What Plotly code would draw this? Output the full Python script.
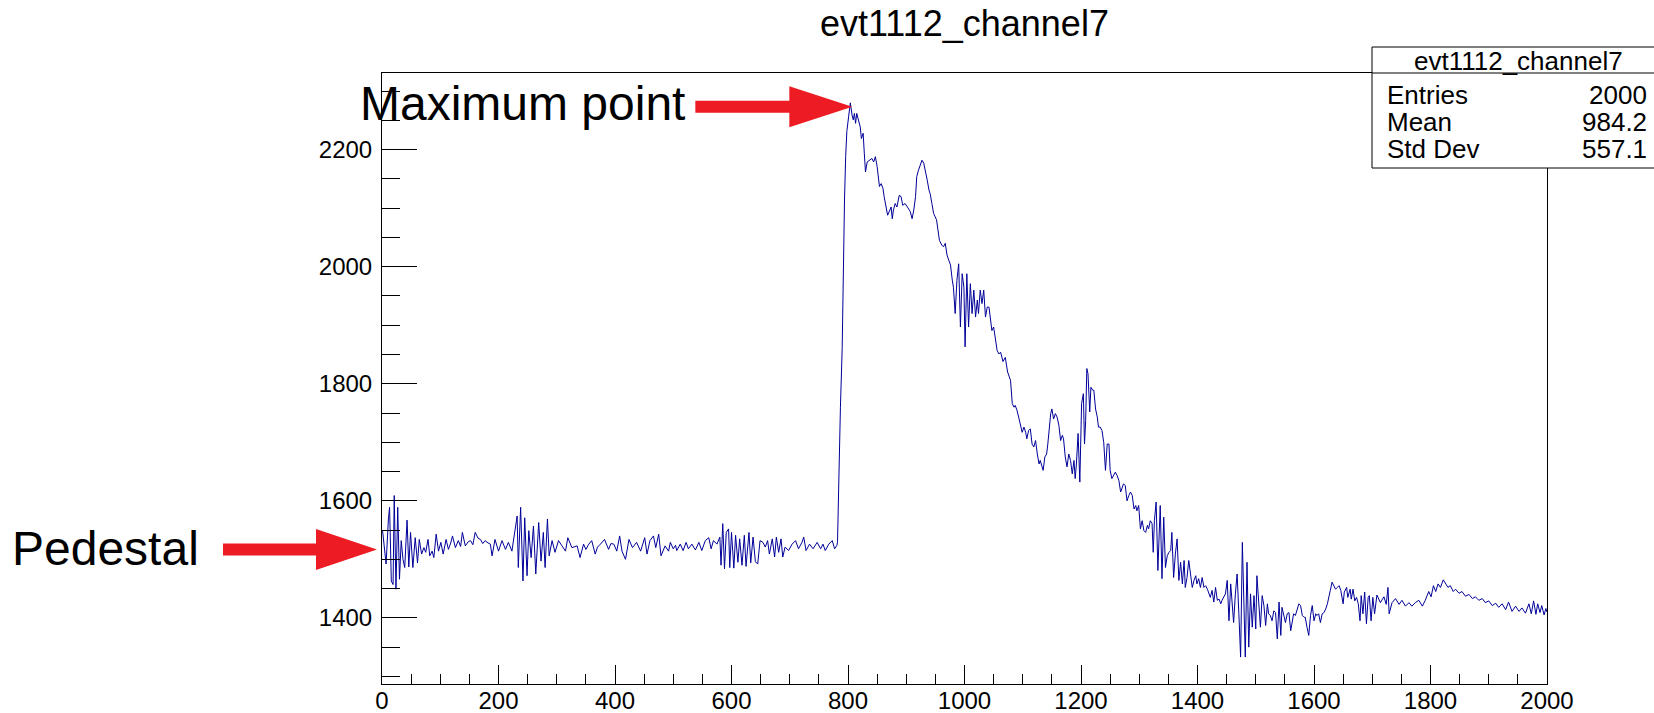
import plotly.graph_objects as go

# ---- waveform samples (sample index, ADC counts) ----
pedestal_pts = [
    (1, 1549), (4, 1514), (7, 1492), (11, 1569), (13, 1589), (16, 1463), (19, 1457), (21, 1609),
    (24, 1449), (27, 1589), (30, 1466), (33, 1532), (36, 1500), (39, 1486), (43, 1567), (46, 1487),
    (49, 1546), (53, 1486), (57, 1537), (61, 1494), (64, 1534), (68, 1509), (72, 1520), (75, 1512),
    (79, 1534), (82, 1506), (86, 1514), (89, 1503), (93, 1543), (97, 1514), (101, 1529), (105, 1509),
    (110, 1534), (114, 1517), (118, 1528), (121, 1540), (126, 1520), (131, 1532), (135, 1522),
    (138, 1546), (143, 1523), (148, 1530), (152, 1532), (156, 1525), (160, 1546), (165, 1536),
    (169, 1534), (173, 1527), (177, 1532), (182, 1528), (186, 1526), (189, 1506), (194, 1534),
    (200, 1514), (206, 1532), (212, 1517), (217, 1529), (223, 1514), (228, 1549), (232, 1574),
    (234, 1486), (238, 1589), (242, 1463), (245, 1571), (249, 1472), (252, 1549), (256, 1503),
    (260, 1557), (264, 1475), (269, 1563), (273, 1497), (277, 1546), (280, 1486), (284, 1569),
    (287, 1506), (292, 1532), (297, 1512), (303, 1532), (309, 1523), (315, 1514), (319, 1537),
    (326, 1520), (335, 1523), (340, 1503), (346, 1526), (350, 1517), (355, 1526), (360, 1532),
    (366, 1509), (370, 1521), (375, 1526), (382, 1534), (389, 1517), (393, 1527), (398, 1526),
    (403, 1514), (408, 1540), (412, 1514), (418, 1500), (424, 1534), (430, 1520), (437, 1529),
    (444, 1514), (451, 1537), (455, 1509), (460, 1532), (466, 1540), (470, 1520), (475, 1543),
    (479, 1506), (486, 1523), (492, 1514), (495, 1529), (500, 1518), (504, 1524), (506, 1515),
    (512, 1526), (517, 1515), (522, 1529), (526, 1518), (532, 1526), (538, 1516), (544, 1529),
    (549, 1515), (555, 1532), (561, 1537), (565, 1518), (569, 1532), (575, 1526), (580, 1538),
    (582, 1490), (585, 1561), (588, 1484), (591, 1546), (595, 1552), (597, 1486), (600, 1546),
    (604, 1485), (607, 1541), (611, 1495), (614, 1535), (618, 1490), (622, 1541), (625, 1488),
    (630, 1546), (633, 1494), (637, 1538), (641, 1496), (645, 1492), (649, 1532), (654, 1529),
    (658, 1521), (662, 1532), (665, 1509), (670, 1535), (674, 1504), (677, 1538), (681, 1512),
    (685, 1535), (688, 1504), (692, 1521), (698, 1515), (704, 1526), (710, 1532), (715, 1518),
    (721, 1529), (724, 1538), (728, 1515), (734, 1526), (740, 1518), (747, 1529), (753, 1518),
    (757, 1526), (761, 1515), (767, 1526), (773, 1532), (777, 1518), (781, 1524),
]

pulse_pts = [
    (782, 1530), (784, 1640), (787, 1760), (790, 1860), (792, 2000), (794, 2114), (796, 2188),
    (798, 2231), (801, 2256), (804, 2280), (807, 2259), (809, 2251), (811, 2262), (813, 2245),
    (815, 2262), (818, 2248), (821, 2239), (823, 2219), (826, 2228), (828, 2194), (830, 2162),
    (833, 2179), (837, 2182), (841, 2185), (844, 2179), (847, 2188), (850, 2171), (853, 2148),
    (854, 2137), (857, 2142), (860, 2134), (862, 2120), (866, 2094), (868, 2088), (872, 2097),
    (874, 2102), (876, 2082), (878, 2097), (881, 2108), (884, 2102), (888, 2122), (891, 2120),
    (894, 2105), (898, 2108), (902, 2102), (907, 2094), (910, 2082), (913, 2097), (916, 2120),
    (918, 2154), (921, 2165), (924, 2174), (927, 2182), (930, 2177), (933, 2165), (936, 2148),
    (939, 2131), (941, 2125), (944, 2108), (947, 2091), (952, 2080), (954, 2062), (957, 2045),
    (961, 2037), (964, 2034), (967, 2040), (970, 2020), (973, 2011), (976, 2003), (979, 1977),
    (981, 1965), (984, 1920), (987, 1977), (990, 2005), (993, 1897), (996, 1988), (999, 1965),
    (1001, 1863), (1004, 1988), (1007, 1897), (1010, 1971), (1013, 1920), (1016, 1960),
    (1019, 1914), (1022, 1943), (1024, 1920), (1027, 1960), (1030, 1937), (1033, 1960),
    (1036, 1914), (1039, 1931), (1042, 1931), (1044, 1914), (1047, 1891), (1050, 1897),
    (1053, 1880), (1056, 1857), (1059, 1851), (1062, 1854), (1066, 1838), (1070, 1845),
    (1074, 1820),
]

decay_pts = [
    (1079, 1806), (1082, 1766), (1085, 1760), (1087, 1763), (1090, 1755), (1093, 1743),
    (1096, 1732), (1099, 1717), (1102, 1726), (1105, 1717), (1107, 1706), (1110, 1720),
    (1113, 1723), (1116, 1697), (1119, 1692), (1122, 1703), (1125, 1680), (1128, 1663),
    (1130, 1669), (1133, 1658), (1135, 1652), (1138, 1675), (1141, 1680), (1143, 1697),
    (1146, 1732), (1148, 1749), (1150, 1757), (1153, 1740), (1156, 1749), (1159, 1743),
    (1162, 1729), (1165, 1703), (1168, 1712), (1170, 1706), (1173, 1675), (1176, 1658),
    (1179, 1680), (1182, 1669), (1185, 1646), (1188, 1669), (1190, 1638), (1192, 1661),
    (1195, 1715), (1198, 1632), (1201, 1766), (1204, 1783), (1206, 1697), (1208, 1737),
    (1210, 1826), (1212, 1817), (1215, 1752), (1217, 1794), (1220, 1789), (1222, 1789),
    (1225, 1757), (1228, 1743), (1230, 1726), (1233, 1726), (1236, 1720), (1239, 1700),
    (1242, 1652), (1245, 1697), (1248, 1697), (1250, 1652), (1253, 1638), (1256, 1643),
    (1259, 1649), (1262, 1643), (1265, 1635), (1268, 1615), (1271, 1626), (1273, 1629),
    (1276, 1626), (1279, 1600), (1282, 1609), (1285, 1615), (1288, 1609), (1291, 1586),
    (1294, 1592), (1296, 1583), (1299, 1592), (1302, 1552), (1305, 1566), (1308, 1549),
    (1311, 1546), (1314, 1558), (1316, 1552), (1319, 1566), (1322, 1561), (1324, 1512),
    (1326, 1566), (1329, 1598), (1332, 1481), (1334, 1532), (1336, 1592), (1339, 1467),
    (1342, 1572), (1345, 1486), (1348, 1506), (1351, 1512), (1354, 1515), (1356, 1546),
    (1359, 1469), (1362, 1509), (1365, 1535), (1368, 1464), (1371, 1495), (1374, 1458),
    (1377, 1498), (1379, 1452), (1382, 1469), (1385, 1498), (1388, 1469), (1391, 1452),
    (1394, 1464), (1397, 1472), (1399, 1458), (1402, 1467), (1405, 1452), (1408, 1469),
    (1411, 1452), (1414, 1455), (1417, 1449), (1419, 1444), (1422, 1435), (1425, 1447),
    (1428, 1427), (1431, 1452), (1434, 1430), (1437, 1432), (1440, 1424), (1442, 1430),
    (1448, 1441),
]

tail_pts = [
    (1451, 1464), (1454, 1395), (1457, 1458), (1460, 1418), (1462, 1392), (1465, 1441),
    (1468, 1475), (1471, 1407), (1474, 1333), (1477, 1529), (1480, 1372), (1482, 1333),
    (1485, 1495), (1488, 1350), (1491, 1441), (1494, 1384), (1497, 1438), (1500, 1381),
    (1502, 1472), (1505, 1424), (1508, 1384), (1511, 1438), (1514, 1421), (1517, 1387),
    (1520, 1424), (1522, 1407), (1525, 1404), (1528, 1395), (1531, 1412), (1534, 1409),
    (1537, 1364), (1540, 1427), (1543, 1370), (1545, 1418), (1548, 1407), (1551, 1392),
    (1554, 1407), (1557, 1409), (1560, 1378), (1563, 1401), (1565, 1407), (1568, 1404),
    (1571, 1415), (1574, 1424), (1577, 1421), (1580, 1404), (1583, 1401), (1585, 1401),
    (1588, 1384), (1591, 1370), (1594, 1404), (1597, 1421), (1600, 1395), (1603, 1407),
    (1605, 1404), (1608, 1407), (1611, 1392), (1614, 1407), (1617, 1409), (1620, 1415),
    (1623, 1424), (1626, 1441), (1628, 1447), (1631, 1461), (1634, 1455), (1637, 1449),
    (1640, 1452), (1643, 1455), (1646, 1447), (1648, 1435), (1650, 1424), (1652, 1444),
    (1656, 1452), (1658, 1435), (1662, 1449), (1664, 1432), (1667, 1449), (1670, 1429),
    (1673, 1435), (1676, 1424), (1679, 1395), (1681, 1438), (1684, 1407), (1687, 1444),
    (1690, 1390), (1693, 1435), (1695, 1438), (1698, 1395), (1701, 1435), (1704, 1407),
    (1708, 1439), (1714, 1426), (1720, 1436), (1724, 1423), (1727, 1452), (1729, 1407),
    (1734, 1426), (1740, 1433), (1746, 1423), (1751, 1430), (1757, 1420), (1763, 1426),
    (1768, 1420), (1774, 1426), (1780, 1430), (1786, 1420), (1791, 1430), (1797, 1445),
    (1801, 1436), (1805, 1455), (1809, 1445), (1813, 1458), (1817, 1452), (1822, 1465),
    (1826, 1458), (1830, 1452), (1834, 1455), (1839, 1445), (1843, 1449), (1849, 1442),
    (1854, 1445), (1860, 1437), (1866, 1440), (1872, 1433), (1877, 1436), (1883, 1430),
    (1889, 1433), (1894, 1426), (1900, 1429), (1906, 1421), (1912, 1425), (1917, 1418),
    (1923, 1424), (1929, 1414), (1934, 1427), (1940, 1411), (1946, 1420), (1952, 1411),
    (1957, 1417), (1963, 1408), (1969, 1424), (1973, 1407), (1977, 1429), (1981, 1406),
    (1984, 1424), (1988, 1409), (1991, 1421), (1995, 1405), (1998, 1416), (2000, 1410),
]

hist_name = "evt1112_channel7"
stat_labels = ["Entries", "Mean", "Std Dev"]
stat_values = ["2000", "984.2", "557.1"]
x_ticks = list(range(0, 2001, 200))
y_ticks = [1400, 1600, 1800, 2000, 2200]
x_range = [0, 2000]
y_range = [1287, 2331]
pedestal_level = 1517

points = pedestal_pts + pulse_pts + decay_pts + tail_pts
samples = [p[0] for p in points]
counts = [p[1] for p in points]

# ---- canvas geometry (pixels) ----
W, H = 1654, 713
ML, MR, MT, MB = 382, 107, 73, 29
PW, PH = W - ML - MR, H - MT - MB
FONT = "Liberation Sans, Arial, Helvetica, sans-serif"


def fx(px):
    return (px - ML) / PW


def fy(py):
    return (H - MB - py) / PH


fig = go.Figure()
fig.add_trace(go.Scatter(
    x=samples, y=counts, mode="lines",
    line=dict(color="#000099", width=1),
    hoverinfo="skip", showlegend=False,
))

axis_common = dict(
    showgrid=False, zeroline=False, automargin=False,
    showline=True, linecolor="black", linewidth=1, mirror=True,
    ticks="inside", tickcolor="black", tickwidth=1,
    tickfont=dict(family=FONT, size=24, color="black"),
)
fig.update_xaxes(
    range=x_range, tickvals=x_ticks, ticklen=19, ticklabelstandoff=-5,
    minor=dict(ticks="inside", ticklen=10, dtick=50, tickcolor="black", tickwidth=1),
    **axis_common,
)
fig.update_yaxes(
    range=y_range, tickvals=y_ticks, ticklen=35, ticklabelstandoff=4,
    minor=dict(ticks="inside", ticklen=18, dtick=50, tickcolor="black", tickwidth=1),
    **axis_common,
)

shapes = []
annotations = []

# statistics box
bx0, bx1, by0, by1, bhead = 1372, 1664, 47, 168, 73
shapes.append(dict(type="rect", xref="paper", yref="paper",
                   x0=fx(bx0), x1=fx(bx1), y0=fy(by1), y1=fy(by0),
                   fillcolor="white", line=dict(color="black", width=1), layer="above"))
shapes.append(dict(type="line", xref="paper", yref="paper",
                   x0=fx(bx0), x1=fx(bx1), y0=fy(bhead), y1=fy(bhead),
                   line=dict(color="black", width=1), layer="above"))
annotations.append(dict(text=hist_name, xref="paper", yref="paper",
                        x=fx(1518), y=fy(61), xanchor="center", yanchor="middle",
                        showarrow=False, font=dict(family=FONT, size=26, color="black")))
row_y = [95, 122, 149]
for lab, val, ry in zip(stat_labels, stat_values, row_y):
    annotations.append(dict(text=lab, xref="paper", yref="paper",
                            x=fx(1385), y=fy(ry), xanchor="left", yanchor="middle",
                            showarrow=False, font=dict(family=FONT, size=26, color="black")))
    annotations.append(dict(text=val, xref="paper", yref="paper",
                            x=fx(1649), y=fy(ry), xanchor="right", yanchor="middle",
                            showarrow=False, font=dict(family=FONT, size=26, color="black")))

# title
annotations.append(dict(text=hist_name, xref="paper", yref="paper",
                        x=0.5, y=fy(23), xanchor="center", yanchor="middle",
                        showarrow=False, font=dict(family=FONT, size=36, color="black")))

# arrow marking the maximum sample (tip anchored on the data point)
imax = max(range(len(counts)), key=lambda i: counts[i])
shapes.append(dict(type="path", xref="x", yref="y",
                   xsizemode="pixel", ysizemode="pixel",
                   xanchor=samples[imax], yanchor=counts[imax],
                   path="M -155,-10 L -61,-10 L -61,-24.5 L 2,-4 L -61,16.5 L -61,2 L -155,2 Z",
                   fillcolor="#ed1c24", line=dict(width=0), layer="above"))
annotations.append(dict(text="Maximum point", xref="paper", yref="paper",
                        x=fx(358), y=fy(103), xanchor="left", yanchor="middle",
                        showarrow=False, font=dict(family=FONT, size=48, color="black")))

# arrow marking the pedestal level
ped_y = (pedestal_level - y_range[0]) / (y_range[1] - y_range[0])
shapes.append(dict(type="path", xref="paper", yref="paper",
                   xsizemode="pixel", ysizemode="pixel",
                   xanchor=0, yanchor=ped_y,
                   path="M -159,6 L -66,6 L -66,20.5 L -5,0 L -66,-20.5 L -66,-6 L -159,-6 Z",
                   fillcolor="#ed1c24", line=dict(width=0), layer="above"))
annotations.append(dict(text="Pedestal", xref="paper", yref="paper",
                        x=fx(10), y=fy(548), xanchor="left", yanchor="middle",
                        showarrow=False, font=dict(family=FONT, size=48, color="black")))

fig.update_layout(
    width=W, height=H, autosize=False,
    margin=dict(l=ML, r=MR, t=MT, b=MB, pad=0, autoexpand=False),
    paper_bgcolor="white", plot_bgcolor="white",
    shapes=shapes, annotations=annotations,
    showlegend=False,
)

fig.write_html("out.html")
